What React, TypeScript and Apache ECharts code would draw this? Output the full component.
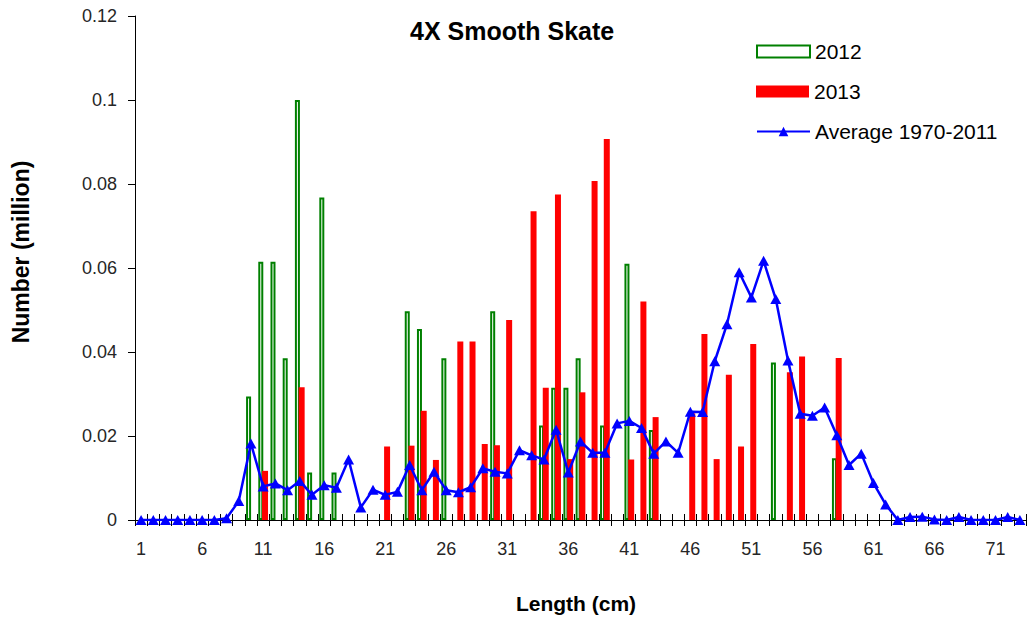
import React, { useEffect, useRef } from "react";
import * as echarts from "echarts";

const lengths = [
  "1","2","3","4","5","6","7","8","9","10","11","12","13","14","15","16","17","18","19","20",
  "21","22","23","24","25","26","27","28","29","30","31","32","33","34","35","36","37","38","39","40",
  "41","42","43","44","45","46","47","48","49","50","51","52","53","54","55","56","57","58","59","60",
  "61","62","63","64","65","66","67","68","69","70","71","72","73",
];

// 2012 survey (million)
const y2012 = [
  null, null, null, null, null, null, null, null, null, 0.0294,
  0.0615, 0.0615, 0.0385, 0.1, 0.0113, 0.0768, 0.0113, null, null, null,
  null, null, 0.0497, 0.0455, null, 0.0385, null, null, null, 0.0497,
  null, null, null, 0.0225, 0.0315, 0.0315, 0.0385, null, 0.0225, null,
  0.061, null, 0.0214, null, null, null, null, null, null, null,
  null, null, 0.0375, null, null, null, null, 0.0147, null, null,
  null, null, null, null, null, null, null, null, null, null,
  null, null, null,
];

// 2013 survey (million)
const y2013 = [
  null, null, null, null, null, null, null, null, null, null,
  0.0117, null, null, 0.0316, null, null, null, null, null, null,
  0.0175, null, 0.0177, 0.026, 0.0143, null, 0.0425, 0.0425, 0.0181, 0.0178,
  0.0476, null, 0.0735, 0.0315, 0.0775, 0.0145, 0.0304, 0.0807, 0.0907, null,
  0.0144, 0.052, 0.0245, null, null, 0.0254, 0.0443, 0.0145, 0.0346, 0.0175,
  0.0419, null, null, 0.0352, 0.0389, null, null, 0.0386, null, null,
  null, null, null, null, null, null, null, null, null, null,
  null, null, null,
];

// Average 1970-2011 (million)
const avg = [
  0, 0, 0, 0, 0, 0, 0, 0.0004, 0.0045, 0.0182,
  0.008, 0.0087, 0.0071, 0.0093, 0.006, 0.0083, 0.0077, 0.0144, 0.003, 0.0072,
  0.006, 0.0067, 0.0131, 0.0071, 0.0115, 0.0071, 0.0066, 0.0078, 0.0123, 0.0115,
  0.0111, 0.0166, 0.0154, 0.0144, 0.0215, 0.0113, 0.0187, 0.016, 0.016, 0.023,
  0.0236, 0.0219, 0.0158, 0.0187, 0.016, 0.0258, 0.0257, 0.0378, 0.0466, 0.059,
  0.053, 0.0617, 0.0526, 0.038, 0.0253, 0.0248, 0.0268, 0.0202, 0.0131, 0.0158,
  0.0088, 0.0037, 0, 0.0007, 0.0008, 0.0001, 0, 0.0007, 0, 0,
  0, 0.0007, 0,
];

const FONT = "Liberation Sans, Arial, sans-serif";

export default function App() {
  const ref = useRef<HTMLDivElement>(null);

  useEffect(() => {
    if (!ref.current) return;
    const chart = echarts.init(ref.current, undefined, { renderer: "svg" });
    const legendText = { fontFamily: FONT, fontSize: 21, color: "#000", lineHeight: 20 };
    chart.setOption({
      animation: false,
      backgroundColor: "#ffffff",
      title: {
        text: "4X Smooth Skate",
        left: 410,
        top: 18,
        padding: 0,
        textStyle: { fontFamily: FONT, fontSize: 25, fontWeight: "bold", color: "#000" },
      },
      grid: { left: 135, right: 1, top: 16, bottom: 97, containLabel: false },
      legend: [
        {
          data: ["2012"], left: 756, top: 41, padding: 0, icon: "rect",
          itemWidth: 53, itemHeight: 12, selectedMode: false, textStyle: legendText,
        },
        {
          data: ["2013"], left: 756, top: 81, padding: 0, icon: "rect",
          itemWidth: 53, itemHeight: 12, selectedMode: false, textStyle: legendText,
        },
        {
          data: ["Average 1970-2011"], left: 756, top: 121, padding: 0,
          itemWidth: 53, itemHeight: 12, selectedMode: false, textStyle: legendText,
        },
      ],
      xAxis: [
        {
          type: "category",
          data: lengths,
          boundaryGap: true,
          axisLine: { show: true, lineStyle: { color: "#000", width: 1 } },
          axisTick: { show: true, interval: 0, length: 6, lineStyle: { color: "#000" } },
          axisLabel: { interval: 4, margin: 20, fontFamily: FONT, fontSize: 18, color: "#262626" },
          splitLine: { show: false },
        },
        {
          type: "category",
          data: lengths,
          position: "bottom",
          offset: 0,
          boundaryGap: true,
          axisLine: { show: false },
          axisTick: { show: true, inside: true, interval: 0, length: 6, lineStyle: { color: "#000" } },
          axisLabel: { show: false },
          splitLine: { show: false },
        },
      ],
      yAxis: {
        type: "value",
        min: 0,
        max: 0.12,
        interval: 0.02,
        axisLine: { show: true, lineStyle: { color: "#000", width: 1 } },
        axisTick: { show: true, length: 7, lineStyle: { color: "#000" } },
        axisLabel: {
          margin: 18,
          fontFamily: FONT,
          fontSize: 18,
          color: "#262626",
          formatter: (v: number) => String(Number(v.toFixed(2))),
        },
        splitLine: { show: false },
      },
      series: [
        {
          name: "2012",
          type: "bar",
          xAxisIndex: 0,
          data: y2012,
          barWidth: 5,
          barGap: "-25%",
          itemStyle: { color: "#ffffff", borderColor: "#008000", borderWidth: 2 },
        },
        {
          name: "2013",
          type: "bar",
          xAxisIndex: 0,
          data: y2013,
          barWidth: 6,
          itemStyle: { color: "#ff0000" },
        },
        {
          name: "Average 1970-2011",
          type: "line",
          xAxisIndex: 0,
          data: avg,
          symbol: "triangle",
          symbolSize: [11, 10],
          showAllSymbol: true,
          lineStyle: { color: "#0000ff", width: 2.5 },
          itemStyle: { color: "#0000ff" },
          z: 5,
        },
      ],
      graphic: [
        {
          type: "text",
          x: 21,
          y: 252,
          rotation: Math.PI / 2,
          style: {
            text: "Number (million)",
            font: `bold 23px ${FONT}`,
            fill: "#000",
            align: "center",
            verticalAlign: "middle",
            textAlign: "center",
            textVerticalAlign: "middle",
          },
        },
        {
          type: "text",
          x: 576,
          y: 603,
          style: {
            text: "Length (cm)",
            font: `bold 21px ${FONT}`,
            fill: "#000",
            align: "center",
            verticalAlign: "middle",
            textAlign: "center",
            textVerticalAlign: "middle",
          },
        },
      ],
    });
    return () => chart.dispose();
  }, []);

  return (
    <div
      ref={ref}
      style={{ position: "fixed", left: 0, top: 0, width: 1027, height: 617, background: "#fff" }}
    />
  );
}
